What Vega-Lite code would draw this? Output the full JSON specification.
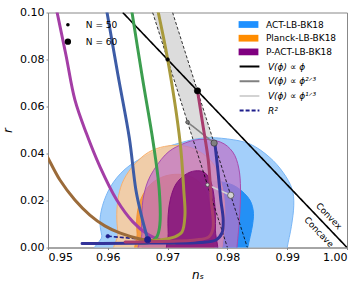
{
 "$schema": "https://vega.github.io/schema/vega-lite/v6.json",
 "width": 299, "height": 235,
 "autosize": {"type": "none"},
 "padding": {"left": 48, "top": 12.5, "right": 15, "bottom": 37.5},
 "background": "white",
 "config": {
  "view": {"stroke": "#888888", "strokeWidth": 1},
  "font": "DejaVu Sans",
  "axis": {"grid": false, "domainColor": "#888888", "tickColor": "#888888", "labelColor": "black", "titleColor": "black", "labelFont": "DejaVu Sans", "labelFontSize": 11, "tickSize": 2, "labelPadding": 2, "titleFont": "DejaVu Sans", "titleFontSize": 12, "titleFontWeight": "normal", "titleFontStyle": "italic"},
  "legend": {"labelFont": "DejaVu Sans", "labelFontSize": 9, "labelColor": "black"}
 },
 "datasets": {
  "band": [
   {"r": 0.0, "ns": 0.98, "ns2": 0.983333},
   {"r": 0.1, "ns": 0.9675, "ns2": 0.970833}
  ],
  "contours": [
   {"c": "ACT2", "i": 1, "ns": 0.9600, "r": -0.005},
   {"c": "ACT2", "i": 2, "ns": 0.9590, "r": 0.005},
   {"c": "ACT2", "i": 3, "ns": 0.9587, "r": 0.012},
   {"c": "ACT2", "i": 4, "ns": 0.9594, "r": 0.020},
   {"c": "ACT2", "i": 5, "ns": 0.9610, "r": 0.028},
   {"c": "ACT2", "i": 6, "ns": 0.9637, "r": 0.035},
   {"c": "ACT2", "i": 7, "ns": 0.9680, "r": 0.041},
   {"c": "ACT2", "i": 8, "ns": 0.9722, "r": 0.0446},
   {"c": "ACT2", "i": 9, "ns": 0.9760, "r": 0.0466},
   {"c": "ACT2", "i": 10, "ns": 0.9800, "r": 0.0462},
   {"c": "ACT2", "i": 11, "ns": 0.9838, "r": 0.0440},
   {"c": "ACT2", "i": 12, "ns": 0.9870, "r": 0.0385},
   {"c": "ACT2", "i": 13, "ns": 0.9893, "r": 0.0320},
   {"c": "ACT2", "i": 14, "ns": 0.9908, "r": 0.0250},
   {"c": "ACT2", "i": 15, "ns": 0.9911, "r": 0.0180},
   {"c": "ACT2", "i": 16, "ns": 0.9907, "r": 0.0090},
   {"c": "ACT2", "i": 17, "ns": 0.9900, "r": 0.0},
   {"c": "ACT2", "i": 18, "ns": 0.9898, "r": -0.005},
   {"c": "ACT1", "i": 1, "ns": 0.9672, "r": -0.005},
   {"c": "ACT1", "i": 2, "ns": 0.9663, "r": 0.006},
   {"c": "ACT1", "i": 3, "ns": 0.9664, "r": 0.014},
   {"c": "ACT1", "i": 4, "ns": 0.9676, "r": 0.021},
   {"c": "ACT1", "i": 5, "ns": 0.9700, "r": 0.0258},
   {"c": "ACT1", "i": 6, "ns": 0.9735, "r": 0.0280},
   {"c": "ACT1", "i": 7, "ns": 0.9775, "r": 0.0283},
   {"c": "ACT1", "i": 8, "ns": 0.9809, "r": 0.0266},
   {"c": "ACT1", "i": 9, "ns": 0.9834, "r": 0.0215},
   {"c": "ACT1", "i": 10, "ns": 0.9843, "r": 0.0160},
   {"c": "ACT1", "i": 11, "ns": 0.9842, "r": 0.0096},
   {"c": "ACT1", "i": 12, "ns": 0.9834, "r": 0.0},
   {"c": "ACT1", "i": 13, "ns": 0.9831, "r": -0.005},
   {"c": "Planck2", "i": 1, "ns": 0.9623, "r": -0.005},
   {"c": "Planck2", "i": 2, "ns": 0.9617, "r": 0.006},
   {"c": "Planck2", "i": 3, "ns": 0.9615, "r": 0.014},
   {"c": "Planck2", "i": 4, "ns": 0.9618, "r": 0.022},
   {"c": "Planck2", "i": 5, "ns": 0.9627, "r": 0.029},
   {"c": "Planck2", "i": 6, "ns": 0.9645, "r": 0.0355},
   {"c": "Planck2", "i": 7, "ns": 0.9668, "r": 0.0405},
   {"c": "Planck2", "i": 8, "ns": 0.9695, "r": 0.0430},
   {"c": "Planck2", "i": 9, "ns": 0.9725, "r": 0.0433},
   {"c": "Planck2", "i": 10, "ns": 0.9752, "r": 0.0410},
   {"c": "Planck2", "i": 11, "ns": 0.9775, "r": 0.0360},
   {"c": "Planck2", "i": 12, "ns": 0.9789, "r": 0.0280},
   {"c": "Planck2", "i": 13, "ns": 0.9795, "r": 0.0190},
   {"c": "Planck2", "i": 14, "ns": 0.9795, "r": 0.0090},
   {"c": "Planck2", "i": 15, "ns": 0.9791, "r": 0.0},
   {"c": "Planck2", "i": 16, "ns": 0.9790, "r": -0.005},
   {"c": "Planck1", "i": 1, "ns": 0.9655, "r": -0.005},
   {"c": "Planck1", "i": 2, "ns": 0.9649, "r": 0.006},
   {"c": "Planck1", "i": 3, "ns": 0.9649, "r": 0.014},
   {"c": "Planck1", "i": 4, "ns": 0.9656, "r": 0.021},
   {"c": "Planck1", "i": 5, "ns": 0.9672, "r": 0.027},
   {"c": "Planck1", "i": 6, "ns": 0.9697, "r": 0.0305},
   {"c": "Planck1", "i": 7, "ns": 0.9726, "r": 0.0310},
   {"c": "Planck1", "i": 8, "ns": 0.9750, "r": 0.0285},
   {"c": "Planck1", "i": 9, "ns": 0.9765, "r": 0.0230},
   {"c": "Planck1", "i": 10, "ns": 0.9772, "r": 0.0150},
   {"c": "Planck1", "i": 11, "ns": 0.9772, "r": 0.0070},
   {"c": "Planck1", "i": 12, "ns": 0.9768, "r": -0.005},
   {"c": "PACT2", "i": 1, "ns": 0.9663, "r": -0.005},
   {"c": "PACT2", "i": 2, "ns": 0.9657, "r": 0.006},
   {"c": "PACT2", "i": 3, "ns": 0.9657, "r": 0.014},
   {"c": "PACT2", "i": 4, "ns": 0.9660, "r": 0.022},
   {"c": "PACT2", "i": 5, "ns": 0.9671, "r": 0.0304},
   {"c": "PACT2", "i": 6, "ns": 0.9696, "r": 0.0394},
   {"c": "PACT2", "i": 7, "ns": 0.9722, "r": 0.0437},
   {"c": "PACT2", "i": 8, "ns": 0.9754, "r": 0.0460},
   {"c": "PACT2", "i": 9, "ns": 0.9788, "r": 0.0449},
   {"c": "PACT2", "i": 10, "ns": 0.9809, "r": 0.0406},
   {"c": "PACT2", "i": 11, "ns": 0.9819, "r": 0.0338},
   {"c": "PACT2", "i": 12, "ns": 0.9822, "r": 0.0245},
   {"c": "PACT2", "i": 13, "ns": 0.9820, "r": 0.0117},
   {"c": "PACT2", "i": 14, "ns": 0.9816, "r": 0.0},
   {"c": "PACT2", "i": 15, "ns": 0.9815, "r": -0.005},
   {"c": "PACT1", "i": 1, "ns": 0.9704, "r": -0.005},
   {"c": "PACT1", "i": 2, "ns": 0.9701, "r": 0.006},
   {"c": "PACT1", "i": 3, "ns": 0.9701, "r": 0.014},
   {"c": "PACT1", "i": 4, "ns": 0.9705, "r": 0.021},
   {"c": "PACT1", "i": 5, "ns": 0.9714, "r": 0.027},
   {"c": "PACT1", "i": 6, "ns": 0.9729, "r": 0.0309},
   {"c": "PACT1", "i": 7, "ns": 0.9746, "r": 0.0326},
   {"c": "PACT1", "i": 8, "ns": 0.9763, "r": 0.0317},
   {"c": "PACT1", "i": 9, "ns": 0.9774, "r": 0.0266},
   {"c": "PACT1", "i": 10, "ns": 0.9779, "r": 0.0181},
   {"c": "PACT1", "i": 11, "ns": 0.9780, "r": 0.0074},
   {"c": "PACT1", "i": 12, "ns": 0.9778, "r": -0.005}
  ],
  "nlines": [
   {"N": "50", "ns": 0.9675, "r": 0.1},
   {"N": "50", "ns": 0.98, "r": 0.0},
   {"N": "60", "ns": 0.970833, "r": 0.1},
   {"N": "60", "ns": 0.983333, "r": 0.0}
  ],
  "models": [
   {"model": "V(ϕ) ∝ ϕ", "ns": 0.9625, "r": 0.1},
   {"model": "V(ϕ) ∝ ϕ", "ns": 1.0, "r": 0.0},
   {"model": "V(ϕ) ∝ ϕ²ᐟ³", "ns": 0.973333, "r": 0.053333},
   {"model": "V(ϕ) ∝ ϕ²ᐟ³", "ns": 0.977778, "r": 0.044444},
   {"model": "V(ϕ) ∝ ϕ¹ᐟ³", "ns": 0.976667, "r": 0.026667},
   {"model": "V(ϕ) ∝ ϕ¹ᐟ³", "ns": 0.980556, "r": 0.022222},
   {"model": "R²", "ns": 0.96, "r": 0.0048},
   {"model": "R²", "ns": 0.966667, "r": 0.003333}
  ],
  "curves": [
   {"curve": "magenta", "i": 1, "ns": 0.9512, "r": 0.104},
   {"curve": "magenta", "i": 2, "ns": 0.9530, "r": 0.0819},
   {"curve": "magenta", "i": 3, "ns": 0.9545, "r": 0.0628},
   {"curve": "magenta", "i": 4, "ns": 0.9564, "r": 0.0487},
   {"curve": "magenta", "i": 5, "ns": 0.9587, "r": 0.0343},
   {"curve": "magenta", "i": 6, "ns": 0.9615, "r": 0.0202},
   {"curve": "magenta", "i": 7, "ns": 0.9642, "r": 0.0109},
   {"curve": "magenta", "i": 8, "ns": 0.9666, "r": 0.0057},
   {"curve": "magenta", "i": 9, "ns": 0.9687, "r": 0.0032},
   {"curve": "steel", "i": 1, "ns": 0.9596, "r": 0.104},
   {"curve": "steel", "i": 2, "ns": 0.9617, "r": 0.0734},
   {"curve": "steel", "i": 3, "ns": 0.9636, "r": 0.0466},
   {"curve": "steel", "i": 4, "ns": 0.9647, "r": 0.0245},
   {"curve": "steel", "i": 5, "ns": 0.9656, "r": 0.0138},
   {"curve": "steel", "i": 6, "ns": 0.9667, "r": 0.0033},
   {"curve": "green", "i": 1, "ns": 0.9638, "r": 0.104},
   {"curve": "green", "i": 2, "ns": 0.9658, "r": 0.072},
   {"curve": "green", "i": 3, "ns": 0.9676, "r": 0.0445},
   {"curve": "green", "i": 4, "ns": 0.9686, "r": 0.0245},
   {"curve": "green", "i": 5, "ns": 0.9687, "r": 0.0096},
   {"curve": "green", "i": 6, "ns": 0.9682, "r": 0.0045},
   {"curve": "green", "i": 7, "ns": 0.9671, "r": 0.0023},
   {"curve": "green", "i": 8, "ns": 0.9654, "r": 0.0019},
   {"curve": "olive", "i": 1, "ns": 0.9681, "r": 0.104},
   {"curve": "olive", "i": 2, "ns": 0.9700, "r": 0.0802},
   {"curve": "olive", "i": 3, "ns": 0.9721, "r": 0.0445},
   {"curve": "olive", "i": 4, "ns": 0.9727, "r": 0.0245},
   {"curve": "olive", "i": 5, "ns": 0.9729, "r": 0.0138},
   {"curve": "olive", "i": 6, "ns": 0.9724, "r": 0.0066},
   {"curve": "olive", "i": 7, "ns": 0.9712, "r": 0.0045},
   {"curve": "olive", "i": 8, "ns": 0.9687, "r": 0.0032},
   {"curve": "olive", "i": 9, "ns": 0.9654, "r": 0.0028},
   {"curve": "brown", "i": 1, "ns": 0.9495, "r": 0.0405},
   {"curve": "brown", "i": 2, "ns": 0.9500, "r": 0.0381},
   {"curve": "brown", "i": 3, "ns": 0.9520, "r": 0.0287},
   {"curve": "brown", "i": 4, "ns": 0.9545, "r": 0.0202},
   {"curve": "brown", "i": 5, "ns": 0.9570, "r": 0.0138},
   {"curve": "brown", "i": 6, "ns": 0.9595, "r": 0.0092},
   {"curve": "brown", "i": 7, "ns": 0.9620, "r": 0.0062},
   {"curve": "brown", "i": 8, "ns": 0.9654, "r": 0.0036},
   {"curve": "brown", "i": 9, "ns": 0.9687, "r": 0.0023},
   {"curve": "brown", "i": 10, "ns": 0.9712, "r": 0.0019},
   {"curve": "navy", "i": 1, "ns": 0.9779, "r": 0.0445},
   {"curve": "navy", "i": 2, "ns": 0.9784, "r": 0.0330},
   {"curve": "navy", "i": 3, "ns": 0.9789, "r": 0.0202},
   {"curve": "navy", "i": 4, "ns": 0.9793, "r": 0.0117},
   {"curve": "navy", "i": 5, "ns": 0.9791, "r": 0.0062},
   {"curve": "navy", "i": 6, "ns": 0.9781, "r": 0.0032},
   {"curve": "navy", "i": 7, "ns": 0.9754, "r": 0.0021},
   {"curve": "navy", "i": 8, "ns": 0.9671, "r": 0.0019},
   {"curve": "navy", "i": 9, "ns": 0.9587, "r": 0.0017},
   {"curve": "navy", "i": 10, "ns": 0.9557, "r": 0.0017},
   {"curve": "maroon", "i": 1, "ns": 0.9750, "r": 0.0667},
   {"curve": "maroon", "i": 2, "ns": 0.9759, "r": 0.0521},
   {"curve": "maroon", "i": 3, "ns": 0.9768, "r": 0.0372},
   {"curve": "maroon", "i": 4, "ns": 0.9773, "r": 0.0202},
   {"curve": "maroon", "i": 5, "ns": 0.9776, "r": 0.0083},
   {"curve": "maroon", "i": 6, "ns": 0.9769, "r": 0.0045},
   {"curve": "maroon", "i": 7, "ns": 0.9746, "r": 0.0032},
   {"curve": "maroon", "i": 8, "ns": 0.9671, "r": 0.0025},
   {"curve": "maroon", "i": 9, "ns": 0.9629, "r": 0.0023}
  ],
  "points": [
   {"model": "phi", "N": "N = 50", "ns": 0.97, "r": 0.08},
   {"model": "phi", "N": "N = 60", "ns": 0.975, "r": 0.066667},
   {"model": "phi23", "N": "N = 50", "ns": 0.973333, "r": 0.053333},
   {"model": "phi23", "N": "N = 60", "ns": 0.977778, "r": 0.044444},
   {"model": "phi13", "N": "N = 50", "ns": 0.976667, "r": 0.026667},
   {"model": "phi13", "N": "N = 60", "ns": 0.980556, "r": 0.022222},
   {"model": "R2", "N": "N = 50", "ns": 0.96, "r": 0.0048},
   {"model": "R2", "N": "N = 60", "ns": 0.966667, "r": 0.003333}
  ],
  "labels": [
   {"t": "Convex", "ns": 0.99699, "r": 0.0134},
   {"t": "Concave", "ns": 0.99532, "r": 0.0066}
  ]
 },
 "encoding": {
  "x": {"field": "ns", "type": "quantitative", "scale": {"domain": [0.95, 1.0], "nice": false, "zero": false}, "axis": {"values": [0.95, 0.96, 0.97, 0.98, 0.99, 1.0], "format": ".2f", "title": "nₛ", "titlePadding": 7}},
  "y": {"field": "r", "type": "quantitative", "scale": {"domain": [0, 0.1], "nice": false, "zero": false}, "axis": {"values": [0, 0.02, 0.04, 0.06, 0.08, 0.1], "format": ".2f", "title": "r", "titlePadding": 5}}
 },
 "layer": [
  {"data": {"name": "band"}, "mark": {"type": "area", "orient": "horizontal", "fill": "#dcdcdc", "clip": true}, "encoding": {"x2": {"field": "ns2"}}},
  {"data": {"name": "contours"}, "transform": [{"filter": {"field": "c", "equal": "ACT2"}}], "mark": {"type": "line", "interpolate": "cardinal-closed", "fill": "#a3cffa", "stroke": "#7ab6f5", "strokeWidth": 1, "clip": true}, "encoding": {"order": {"field": "i", "type": "quantitative"}}},
  {"data": {"name": "contours"}, "transform": [{"filter": {"field": "c", "equal": "ACT1"}}], "mark": {"type": "line", "interpolate": "cardinal-closed", "fill": "#2490f5", "stroke": "#2490f5", "strokeWidth": 1, "clip": true}, "encoding": {"order": {"field": "i", "type": "quantitative"}}},
  {"data": {"name": "contours"}, "transform": [{"filter": {"field": "c", "equal": "Planck2"}}], "mark": {"type": "line", "interpolate": "cardinal-closed", "fill": "#fecd9a", "fillOpacity": 0.85, "stroke": "#f5b070", "strokeWidth": 1, "clip": true}, "encoding": {"order": {"field": "i", "type": "quantitative"}}},
  {"data": {"name": "contours"}, "transform": [{"filter": {"field": "c", "equal": "Planck1"}}], "mark": {"type": "line", "interpolate": "cardinal-closed", "fill": "#f39230", "fillOpacity": 0.85, "stroke": "#f39230", "strokeWidth": 1, "clip": true}, "encoding": {"order": {"field": "i", "type": "quantitative"}}},
  {"data": {"name": "contours"}, "transform": [{"filter": {"field": "c", "equal": "PACT2"}}], "mark": {"type": "line", "interpolate": "cardinal-closed", "fill": "#be70c7", "fillOpacity": 0.7, "stroke": "#a64dae", "strokeWidth": 1, "clip": true}, "encoding": {"order": {"field": "i", "type": "quantitative"}}},
  {"data": {"name": "contours"}, "transform": [{"filter": {"field": "c", "equal": "PACT1"}}], "mark": {"type": "line", "interpolate": "cardinal-closed", "fill": "#82107a", "fillOpacity": 0.85, "stroke": "#82107a", "strokeWidth": 1, "clip": true}, "encoding": {"order": {"field": "i", "type": "quantitative"}}},
  {"data": {"name": "contours"}, "transform": [{"filter": {"field": "c", "oneOf": ["ACT2", "Planck2", "PACT2"]}}], "mark": {"type": "point", "filled": true, "opacity": 0, "clip": true},
   "encoding": {"fill": {"field": "c", "type": "nominal", "scale": {"domain": ["ACT2", "Planck2", "PACT2"], "range": ["#1e90ff", "#ff8c00", "#800080"]},
     "legend": {"title": null, "orient": "none", "legendX": 196, "legendY": 7.5, "padding": 0, "rowPadding": 3.7, "labelOffset": 12.9, "symbolSize": 81, "symbolType": "M-2.2,-0.75H2.2V0.75H-2.2Z", "symbolStrokeWidth": 0, "symbolOpacity": 1, "labelFontSize": 9,
       "labelExpr": "datum.label == 'ACT2' ? 'ACT-LB-BK18' : datum.label == 'Planck2' ? 'Planck-LB-BK18' : 'P-ACT-LB-BK18'",
       "encode": {"symbols": {"update": {"opacity": {"value": 1}, "fillOpacity": {"value": 1}, "strokeWidth": {"value": 0}}}}}}}},
  {"data": {"name": "nlines"}, "mark": {"type": "line", "stroke": "black", "strokeWidth": 0.8, "strokeDash": [3, 2], "clip": true}, "encoding": {"detail": {"field": "N", "type": "nominal"}}},
  {"data": {"name": "models"}, "mark": {"type": "line", "strokeWidth": 1.6, "clip": true},
   "encoding": {
    "color": {"field": "model", "type": "nominal", "scale": {"domain": ["V(ϕ) ∝ ϕ", "V(ϕ) ∝ ϕ²ᐟ³", "V(ϕ) ∝ ϕ¹ᐟ³", "R²"], "range": ["black", "#808080", "#d3d3d3", "#1e1e8c"]},
     "legend": {"title": null, "orient": "none", "legendX": 196, "legendY": 48.5, "padding": 0, "rowPadding": 3.7, "labelOffset": 12.9, "symbolSize": 81, "symbolType": "M-2.2,0H2.2", "symbolStrokeWidth": 2, "labelFontSize": 9, "labelFontStyle": "italic"}},
    "strokeDash": {"field": "model", "type": "nominal", "scale": {"domain": ["V(ϕ) ∝ ϕ", "V(ϕ) ∝ ϕ²ᐟ³", "V(ϕ) ∝ ϕ¹ᐟ³", "R²"], "range": [[1, 0], [1, 0], [1, 0], [4, 2]]},
     "legend": {"title": null, "orient": "none", "legendX": 196, "legendY": 48.5, "padding": 0, "rowPadding": 3.7, "labelOffset": 12.9, "symbolSize": 81, "symbolType": "M-2.2,0H2.2", "symbolStrokeWidth": 2, "labelFontSize": 9, "labelFontStyle": "italic"}}
   }},
  {"data": {"name": "curves"}, "mark": {"type": "line", "strokeWidth": 3, "interpolate": "catmull-rom", "strokeCap": "round", "clip": true},
   "encoding": {
    "order": {"field": "i", "type": "quantitative"},
    "stroke": {"field": "curve", "type": "nominal", "scale": {"domain": ["magenta", "steel", "green", "olive", "brown", "navy", "maroon"], "range": ["#a43ea6", "#3d5ca6", "#3c9e4f", "#a89a3c", "#9b6b3a", "#333399", "#a83d6e"]}, "legend": null}
   }},
  {"data": {"name": "points"}, "transform": [{"filter": {"field": "model", "equal": "phi"}}], "mark": {"type": "circle", "fill": "black", "stroke": "black", "strokeWidth": 0.7, "opacity": 1, "clip": true},
   "encoding": {"size": {"field": "N", "type": "ordinal", "scale": {"domain": ["N = 50", "N = 60"], "range": [13, 40]},
    "legend": {"title": null, "orient": "none", "legendX": 15.4, "legendY": 7.7, "padding": 0, "rowPadding": 5, "labelOffset": 13.4, "labelFontSize": 9, "symbolFillColor": "black", "symbolStrokeColor": "black", "encode": {"symbols": {"update": {"fill": {"value": "black"}, "stroke": {"value": "black"}, "opacity": {"value": 1}}}}}}}},
  {"data": {"name": "points"}, "transform": [{"filter": {"field": "model", "equal": "phi23"}}], "mark": {"type": "circle", "fill": "#808080", "stroke": "#333333", "strokeWidth": 0.7, "opacity": 1, "clip": true},
   "encoding": {"size": {"field": "N", "type": "ordinal", "scale": {"domain": ["N = 50", "N = 60"], "range": [13, 40]},
    "legend": {"title": null, "orient": "none", "legendX": 15.4, "legendY": 7.7, "padding": 0, "rowPadding": 5, "labelOffset": 13.4, "labelFontSize": 9, "symbolFillColor": "black", "symbolStrokeColor": "black", "encode": {"symbols": {"update": {"fill": {"value": "black"}, "stroke": {"value": "black"}, "opacity": {"value": 1}}}}}}}},
  {"data": {"name": "points"}, "transform": [{"filter": {"field": "model", "equal": "phi13"}}], "mark": {"type": "circle", "fill": "#d3d3d3", "stroke": "#444444", "strokeWidth": 0.7, "opacity": 1, "clip": true},
   "encoding": {"size": {"field": "N", "type": "ordinal", "scale": {"domain": ["N = 50", "N = 60"], "range": [13, 40]},
    "legend": {"title": null, "orient": "none", "legendX": 15.4, "legendY": 7.7, "padding": 0, "rowPadding": 5, "labelOffset": 13.4, "labelFontSize": 9, "symbolFillColor": "black", "symbolStrokeColor": "black", "encode": {"symbols": {"update": {"fill": {"value": "black"}, "stroke": {"value": "black"}, "opacity": {"value": 1}}}}}}}},
  {"data": {"name": "points"}, "transform": [{"filter": {"field": "model", "equal": "R2"}}], "mark": {"type": "circle", "fill": "#1e1e8c", "stroke": "#1e1e8c", "strokeWidth": 0.7, "opacity": 1, "clip": true},
   "encoding": {"size": {"field": "N", "type": "ordinal", "scale": {"domain": ["N = 50", "N = 60"], "range": [13, 40]},
    "legend": {"title": null, "orient": "none", "legendX": 15.4, "legendY": 7.7, "padding": 0, "rowPadding": 5, "labelOffset": 13.4, "labelFontSize": 9, "symbolFillColor": "black", "symbolStrokeColor": "black", "encode": {"symbols": {"update": {"fill": {"value": "black"}, "stroke": {"value": "black"}, "opacity": {"value": 1}}}}}}}},
  {"data": {"name": "labels"}, "mark": {"type": "text", "angle": 46.4, "fontSize": 8.8, "font": "DejaVu Sans", "color": "black", "align": "center", "baseline": "middle"}, "encoding": {"text": {"field": "t", "type": "nominal"}}}
 ]
}
